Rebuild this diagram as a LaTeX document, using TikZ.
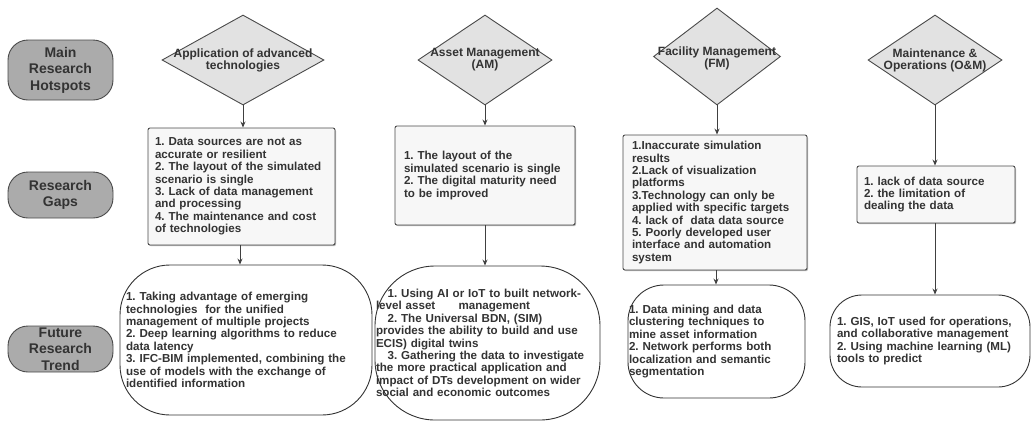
\documentclass[tikz,border=0pt]{standalone}
\usepackage{fontspec}
\setmainfont{Liberation Sans}
\frenchspacing
\usetikzlibrary{shapes.geometric,arrows.meta,shadows}
\definecolor{lblfill}{HTML}{ABABAB}
\definecolor{lbldraw}{HTML}{4A4A4A}
\definecolor{txt}{HTML}{333333}
\definecolor{diafill}{HTML}{E2E2E2}
\definecolor{gapfill}{HTML}{F7F7F7}
\tikzset{
  lbl/.style={draw=lbldraw, line width=0.9pt, fill=lblfill, rounded corners=20pt, minimum width=105pt, align=center, text=txt, font=\fontsize{14}{16.5}\selectfont\bfseries, inner sep=0pt},
  dia/.style={diamond, draw=lbldraw, line width=0.9pt, fill=diafill, inner sep=0pt},
  dtext/.style={align=center, text=txt, font=\fontsize{12}{12}\selectfont\bfseries, inner sep=0pt},
  gapbox/.style={draw=lbldraw, line width=0.9pt, fill=gapfill, rounded corners=2pt, drop shadow={shadow xshift=1pt, shadow yshift=-1.2pt, fill=gray!70, opacity=0.8}, align=left, text=txt, font=\fontsize{11.6}{12.4}\selectfont\bfseries, inner xsep=0pt, inner ysep=0pt},
  trend/.style={draw=black!80, line width=0.9pt, fill=white, align=left, text=txt, font=\fontsize{11.6}{12.4}\selectfont\bfseries, inner xsep=0pt, inner ysep=0pt},
  conn/.style={draw=black!75, line width=0.9pt, -{Stealth[length=6pt,width=5pt]}},
}
\begin{document}
\begin{tikzpicture}[x=1pt,y=-1pt]
\useasboundingbox (0,0) rectangle (1031,421);
% left labels
\node[lbl, minimum height=60pt] (l1) at (60.5,70) {Main\\Research\\Hotspots};
\node[lbl, minimum height=46pt] (l2) at (60.5,195) {Research\\Gaps};
\node[lbl, minimum height=46pt] (l3) at (60.5,349) {Future\\Research\\Trend};
% diamonds
\node[dia, minimum width=162pt, minimum height=90pt] (d1) at (243,60) {};
\node[dtext] (d1t) at (d1.center) {Application of advanced\\technologies};
\node[dia, minimum width=134pt, minimum height=90pt] (d2) at (485,60) {};
\node[dtext] (d2t) at (d2.center) {Asset Management\\(AM)};
\node[dia, minimum width=127pt, minimum height=97pt] (d3) at (717,56.5) {};
\node[dtext] (d3t) at ([yshift=-2pt]d3.center) {Facility Management\\(FM)};
\node[dia, minimum width=134pt, minimum height=90pt] (d4) at (935,60) {};
\node[dtext] (d4t) at (d4.center) {Maintenance \&\\Operations (O\&M)};
% gap boxes
\node[gapbox, minimum width=187pt, minimum height=117pt, text width=173pt] (g1) at (241.5,186.5) {1. Data sources are not as\\accurate or resilient\\2. The layout of the simulated\\scenario is single\\3. Lack of data management\\and processing\\4. The maintenance and cost\\of technologies};
\node[gapbox, minimum width=180pt, minimum height=99pt, text width=162pt] (g2) at (485,175.5) {1. The layout of the\\simulated scenario is single\\2. The digital maturity need\\to be improved};
\node[gapbox, minimum width=184pt, minimum height=135pt, text width=166pt] (g3) at (715,202.5) {1.Inaccurate simulation\\results\\2.Lack of visualization\\platforms\\3.Technology can only be\\applied with specific targets\\4. lack of\ \ data data source\\5. Poorly developed user\\interface and automation\\system};
\node[gapbox, minimum width=158pt, minimum height=57pt, text width=144pt] (g4) at (936,194.5) {1. lack of data source\\2. the limitation of\\dealing the data\\[4pt]};
% trend boxes
\node[trend, rounded corners=50pt, minimum width=252pt, minimum height=150pt, text width=240pt] (t1) at (246,340) {1. Taking advantage of emerging\\technologies\ \ for the unified\\management of multiple projects\\2. Deep learning algorithms to reduce\\data latency\\3. IFC-BIM implemented, combining the\\use of models with the exchange of\\identified information};
\node[trend, rounded corners=60pt, minimum width=225pt, minimum height=154pt, text width=223pt] (t2) at (487.5,343) {\ \ \ 1. Using AI or IoT to built network-\\level asset\ \ \ \ \ \ management\\\ \ \ 2. The Universal BDN, (SIM)\\provides the ability to build and use\\ECIS) digital twins\\\ \ \ 3. Gathering the data to investigate\\the more practical application and\\impact of DTs development on wider\\social and economic outcomes};
\node[trend, rounded corners=36pt, minimum width=177pt, minimum height=113pt, text width=175pt] (t3) at (716.5,341.5) {1. Data mining and data\\clustering techniques to\\mine asset information\\2. Network performs both\\localization and semantic\\segmentation};
\node[trend, rounded corners=32pt, minimum width=200pt, minimum height=92pt, text width=186pt] (t4) at (930,341) {1. GIS, IoT used for operations,\\and collaborative management\\2. Using machine learning (ML)\\tools to predict};
% connectors
\draw[conn] (d1.south) -- (d1.south |- g1.north);
\draw[conn] (g1.south -| 240,0) -- (t1.north -| 240,0);
\draw[conn] (d2.south) -- (d2.south |- g2.north);
\draw[conn] (g2.south -| 485,0) -- (t2.north -| 485,0);
\draw[conn] (d3.south) -- (d3.south |- g3.north);
\draw[conn] (g3.south -| 716,0) -- (t3.north -| 716,0);
\draw[conn] (d4.south) -- (d4.south |- g4.north);
\draw[conn] (g4.south -| 935,0) -- (t4.north -| 935,0);
\end{tikzpicture}
\end{document}
